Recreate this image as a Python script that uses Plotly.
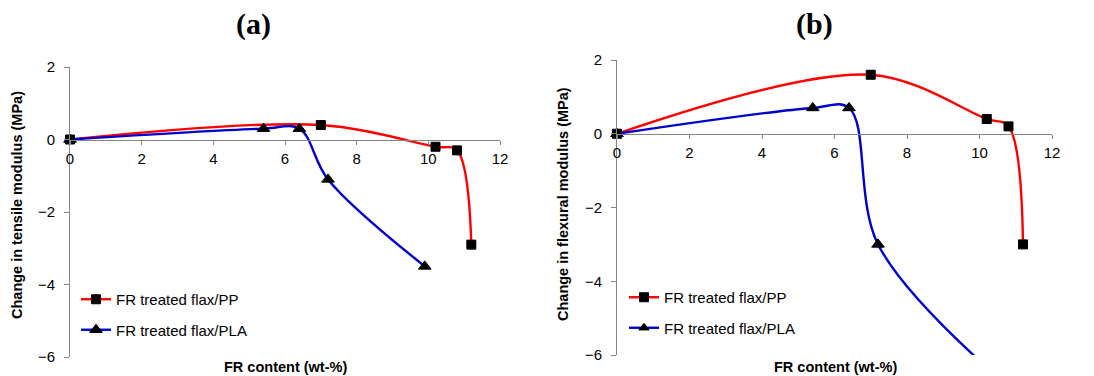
import plotly.graph_objects as go

# Panel (a): tensile modulus
a_pp_x = [0, 7.0, 10.2, 10.8, 11.2]
a_pp_y = [0, 0.4, -0.2, -0.3, -2.9]
a_pla_x = [0, 5.4, 6.4, 7.2, 9.9]
a_pla_y = [0, 0.3, 0.3, -1.1, -3.5]

# Panel (b): flexural modulus
b_pp_x = [0, 7.0, 10.2, 10.8, 11.2]
b_pp_y = [0, 1.6, 0.4, 0.2, -3.0]
b_pla_x = [0, 5.4, 6.4, 7.2, 10.5]
b_pla_y = [0, 0.7, 0.7, -3.0, -6.6]

x_ticks = [0, 2, 4, 6, 8, 10, 12]
y_ticks = [2, 0, -2, -4, -6]

pp_name = "FR treated flax/PP"
pla_name = "FR treated flax/PLA"
RED = "#FF0000"
BLUE = "#0000CC"
AX = "#868686"
W, H = 1094, 376

fig = go.Figure()

def add_series(x, y, name, color, symbol, msize, xa, ya, legend):
    sizes = [msize if (-6 <= v <= 2) else 0 for v in y]
    fig.add_trace(go.Scatter(
        x=x, y=y, name=name, mode="lines+markers",
        line=dict(color=color, width=2.4, shape="spline", smoothing=1.0),
        marker=dict(symbol=symbol, color="#000000", size=sizes, opacity=1,
                    line=dict(width=1, color="#000000")),
        xaxis=xa, yaxis=ya, legend=legend, legendgroup=name + legend,
        cliponaxis=False,
    ))

add_series(a_pp_x, a_pp_y, pp_name, RED, "square", 9, "x", "y", "legend")
add_series(a_pla_x, a_pla_y, pla_name, BLUE, "triangle-up", 11, "x", "y", "legend")
add_series(b_pp_x, b_pp_y, pp_name, RED, "square", 9, "x2", "y2", "legend2")
add_series(b_pla_x, b_pla_y, pla_name, BLUE, "triangle-up", 11, "x2", "y2", "legend2")

def px_x(p):
    return p / W

def px_y(p):
    return 1 - p / H

tickfont = dict(family="Liberation Sans, Arial", size=15, color="black")

a_l, a_r, a_t, a_b = 70, 500, 67, 357
b_l, b_r, b_t, b_b = 617, 1052, 60, 355

def y0_pos(t, b):
    return t + (b - t) * (2 - 0) / 8

common_x = dict(range=[0, 12], tickvals=x_ticks, showgrid=False, zeroline=False,
                showline=True, linecolor=AX, linewidth=1, ticks="outside",
                ticklen=4, tickcolor=AX, tickfont=tickfont, anchor="free",
                automargin=False, ticklabelstandoff=1)
common_y = dict(range=[-6, 2], tickvals=y_ticks, showgrid=False, zeroline=False,
                showline=True, linecolor=AX, linewidth=1, ticks="outside",
                ticklen=5, tickcolor=AX, tickfont=tickfont, automargin=False,
                ticklabelstandoff=6)

legfont = dict(family="Liberation Sans, Arial", size=15, color="black")

fig.update_layout(
    width=W, height=H,
    margin=dict(l=0, r=0, t=0, b=0, autoexpand=False),
    paper_bgcolor="white", plot_bgcolor="white",
    xaxis=dict(domain=[px_x(a_l), px_x(a_r)], position=px_y(y0_pos(a_t, a_b)), **common_x),
    yaxis=dict(domain=[px_y(a_b), px_y(a_t)], anchor="x", **common_y),
    xaxis2=dict(domain=[px_x(b_l), px_x(b_r)], position=px_y(y0_pos(b_t, b_b)), **common_x),
    yaxis2=dict(domain=[px_y(b_b), px_y(b_t)], anchor="x2", **common_y),
    legend=dict(x=px_x(76), y=px_y(283), xanchor="left", yanchor="top",
                bgcolor="rgba(0,0,0,0)", font=legfont,
                tracegroupgap=8, itemwidth=30),
    legend2=dict(x=px_x(624), y=px_y(281), xanchor="left", yanchor="top",
                 bgcolor="rgba(0,0,0,0)", font=legfont,
                 tracegroupgap=8, itemwidth=30),
    showlegend=True,
)

title_font = dict(family="Liberation Serif, Times New Roman", size=30, color="black")
lab_font = dict(family="Liberation Sans, Arial", size=14.5, color="black")

annots = [
    dict(text="<b>(a)</b>", x=px_x(253), y=px_y(24), font=title_font),
    dict(text="<b>(b)</b>", x=px_x(814), y=px_y(24), font=title_font),
    dict(text="<b>FR content (wt-%)</b>", x=px_x(285), y=px_y(367), font=lab_font),
    dict(text="<b>FR content (wt-%)</b>", x=px_x(835), y=px_y(367), font=lab_font),
    dict(text="<b>Change in tensile modulus (MPa)</b>", x=px_x(17), y=px_y(205), font=lab_font, textangle=-90),
    dict(text="<b>Change in flexural modulus (MPa)</b>", x=px_x(563), y=px_y(204), font=lab_font, textangle=-90),
]
for a in annots:
    fig.add_annotation(xref="paper", yref="paper", showarrow=False,
                       xanchor="center", yanchor="middle", **a)

fig.write_html("out.html")
